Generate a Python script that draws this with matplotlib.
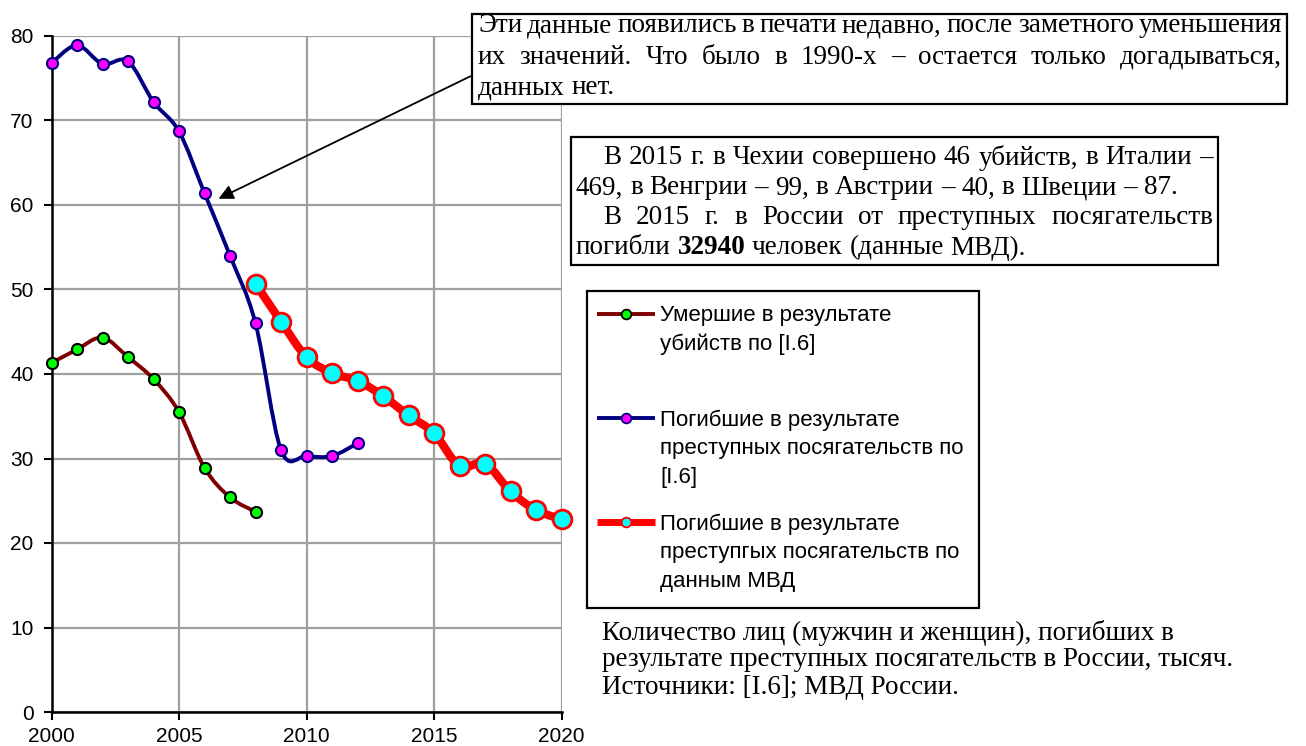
import numpy as np
import matplotlib
matplotlib.use("Agg")
import matplotlib.pyplot as plt
from matplotlib.path import Path
from matplotlib.patches import PathPatch, Rectangle
from matplotlib.lines import Line2D

# ------------------------------------------------------------------ data
years_i6 = [2000, 2001, 2002, 2003, 2004, 2005, 2006, 2007, 2008]
murders_i6 = [41.3, 42.9, 44.3, 42.0, 39.4, 35.5, 28.9, 25.4, 23.7]

years_crimes_i6 = [2000, 2001, 2002, 2003, 2004, 2005, 2006, 2007, 2008, 2009, 2010, 2011, 2012]
crimes_i6 = [76.8, 78.9, 76.7, 77.0, 72.2, 68.7, 61.4, 54.0, 46.0, 31.0, 30.3, 30.3, 31.8]

years_mvd = [2008, 2009, 2010, 2011, 2012, 2013, 2014, 2015, 2016, 2017, 2018, 2019, 2020]
crimes_mvd = [50.7, 46.2, 42.0, 40.1, 39.2, 37.4, 35.1, 33.0, 29.1, 29.4, 26.1, 23.9, 22.8]

legend_labels = [
    ["Умершие в результате", "убийств по [I.6]"],
    ["Погибшие в результате", "преступных посягательств по", "[I.6]"],
    ["Погибшие в результате", "преступгых посягательств по", "данным МВД"],
]

note_top = [
    ("Эти данные появились в печати недавно, после заметного уменьшения", True, 0),
    ("их значений. Что было в 1990-х – остается только догадываться,", True, 0),
    ("данных нет.", False, 0),
]
note_mid = [
    ("В 2015 г. в Чехии совершено 46 убийств, в Италии –", True, 27),
    ("469, в Венгрии – 99, в Австрии – 40, в Швеции – 87.", False, 0),
    ("В 2015 г. в России от преступных посягательств", True, 27),
    ("погибли 32940 человек (данные МВД).", False, 0),
]
caption = [
    "Количество лиц (мужчин и женщин), погибших в",
    "результате преступных посягательств в России, тысяч.",
    "Источники: [I.6]; МВД России.",
]

SERIF = "Liberation Serif"
SANS = "Liberation Sans"
W, H = 1306, 746
FS_SERIF = 19.5


def smooth_path(x, y):
    # кривая Безье через точки (как сглаженная линия в Excel)
    pts = np.column_stack([x, y]).astype(float)
    n = len(pts)
    verts = [pts[0]]
    codes = [Path.MOVETO]
    for i in range(n - 1):
        p0 = pts[max(i - 1, 0)]
        p1 = pts[i]
        p2 = pts[i + 1]
        p3 = pts[min(i + 2, n - 1)]
        verts += [p1 + (p2 - p0) / 6, p2 - (p3 - p1) / 6, p2]
        codes += [Path.CURVE4] * 3
    return Path(verts, codes)


fig = plt.figure(figsize=(W / 100, H / 100), dpi=100)
ax = fig.add_axes([51.5 / W, 1 - 712 / H, 510 / W, 676 / H])

ax.set_xlim(2000, 2020)
ax.set_ylim(0, 80)
ax.set_xticks(range(2000, 2021, 5))
ax.set_yticks(range(0, 81, 10))
ax.grid(True, color="#a0a0a0", lw=1.6)
ax.set_axisbelow(True)
for s in ["top", "right"]:
    ax.spines[s].set_visible(False)
for s in ["left", "bottom"]:
    ax.spines[s].set_linewidth(1.8)
ax.tick_params(direction="out", length=6, width=1.5, labelsize=15)
ax.tick_params(axis="x", pad=5)
ax.tick_params(axis="y", pad=7)
for lab in ax.get_xticklabels() + ax.get_yticklabels():
    lab.set_fontfamily(SANS)

ax.add_patch(PathPatch(smooth_path(years_i6, murders_i6), fc="none", ec="#800000", lw=2.8, zorder=3, clip_on=False))
ax.plot(years_i6, murders_i6, "o", ms=8, mfc="#00ff00", mec="black", mew=1.5, zorder=4, clip_on=False)

ax.add_patch(PathPatch(smooth_path(years_crimes_i6, crimes_i6), fc="none", ec="#000080", lw=2.8, zorder=3, clip_on=False))
ax.plot(years_crimes_i6, crimes_i6, "o", ms=8, mfc="#ff00ff", mec="#000080", mew=1.5, zorder=4, clip_on=False)

ax.add_patch(PathPatch(smooth_path(years_mvd, crimes_mvd), fc="none", ec="#ff0000", lw=6, zorder=5, clip_on=False))
ax.plot(years_mvd, crimes_mvd, "o", ms=13.5, mfc="#00ffff", mec="#ff0000", mew=2, zorder=6, clip_on=False)

ax.annotate("", xy=(2006.45, 60.6), xycoords="data",
            xytext=(473 / W, 1 - 75 / H), textcoords="figure fraction",
            arrowprops=dict(arrowstyle="-|>", color="black", lw=1.3, mutation_scale=22),
            annotation_clip=False, zorder=7)

# ------------------------------------------------------------------ текст поверх (координаты в пикселях)
ov = fig.add_axes([0, 0, 1, 1], zorder=10)
ov.set_xlim(0, W)
ov.set_ylim(H, 0)
ov.axis("off")
renderer = fig.canvas.get_renderer()


def put_line(text, x0, x1, y, fs, justify, bold=()):
    words = text.split(" ")
    items = []
    for w in words:
        t = ov.text(0, y, w, fontsize=fs, family=SERIF, va="center", ha="left",
                    fontweight="bold" if w in bold else "normal")
        items.append(t)
    widths = [t.get_window_extent(renderer).width for t in items]
    probe1 = ov.text(0, 0, "a a", fontsize=fs, family=SERIF)
    probe2 = ov.text(0, 0, "aa", fontsize=fs, family=SERIF)
    space = probe1.get_window_extent(renderer).width - probe2.get_window_extent(renderer).width
    probe1.remove()
    probe2.remove()
    if justify and len(words) > 1:
        gap = (x1 - x0 - sum(widths)) / (len(words) - 1)
    else:
        gap = space
    x = x0
    for t, w in zip(items, widths):
        t.set_x(x)
        x += w + gap


# верхняя рамка
ov.add_patch(Rectangle((472, 14), 815, 90, fc="white", ec="black", lw=1.6))
for k, (line, just, ind) in enumerate(note_top):
    put_line(line, 478 + ind, 1282, 26 + k * 31, FS_SERIF, just)

# средняя рамка
ov.add_patch(Rectangle((571, 137), 647, 128, fc="white", ec="black", lw=1.6))
for k, (line, just, ind) in enumerate(note_mid):
    put_line(line, 576 + ind, 1213, 158 + k * 30, FS_SERIF, just, bold=("32940",))

# легенда
ov.add_patch(Rectangle((587, 291), 392, 317, fc="white", ec="black", lw=1.6))
legend_styles = [
    dict(color="#800000", lw=2.8, mfc="#00ff00", mec="black"),
    dict(color="#000080", lw=2.8, mfc="#ff00ff", mec="#000080"),
    dict(color="#ff0000", lw=5, mfc="#00ffff", mec="#ff0000"),
]
handle_y = [314, 418, 522]
for hy, st, lines in zip(handle_y, legend_styles, legend_labels):
    ov.add_line(Line2D([597, 655], [hy, hy], color=st["color"], lw=st["lw"], solid_capstyle="butt"))
    ov.add_line(Line2D([626], [hy], marker="o", ms=7, mfc=st["mfc"], mec=st["mec"], mew=1.3))
    for j, s in enumerate(lines):
        ov.text(660, hy + 2 + j * 28.5, s, fontsize=16, family=SANS, va="center", ha="left")

# подпись
for k, line in enumerate(caption):
    ov.text(602, 633 + k * 27, line, fontsize=FS_SERIF, family=SERIF, va="center", ha="left")

fig.savefig("out.png", dpi=100)
